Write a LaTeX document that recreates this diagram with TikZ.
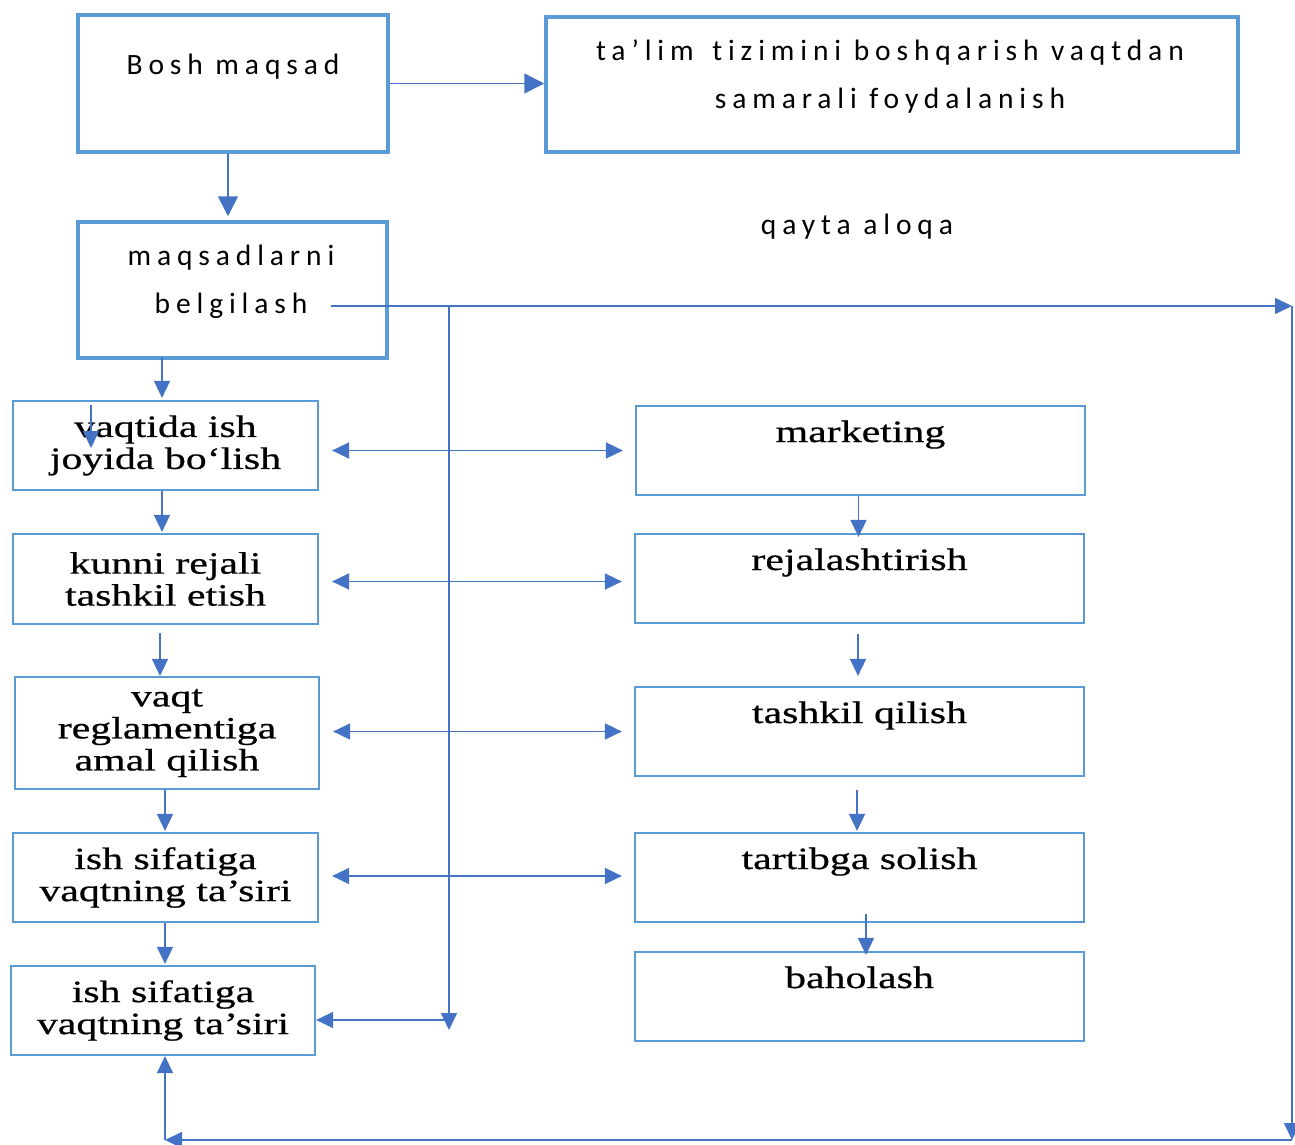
\documentclass[tikz,border=0pt]{standalone}
\usepackage{fontspec}
\usetikzlibrary{arrows.meta}
\newfontfamily\sansL[LetterSpace=20,Ligatures={NoCommon,NoRare},Contextuals=NoAlternate]{Carlito}
\newfontfamily\serifW[FakeStretch=1.35,FakeBold=0.6]{Liberation Serif}
\definecolor{boxblue}{HTML}{5B9BD5}
\definecolor{arrblue}{HTML}{4472C4}
\begin{document}
\begin{tikzpicture}[x=1pt,y=-1pt,
  thickbox/.style={draw=boxblue,line width=3.5pt,inner sep=0pt},
  thinbox/.style={draw=boxblue,line width=2.2pt,inner sep=0pt},
  stxt/.style={font=\sansL\fontsize{29.5}{48}\selectfont,align=center,inner sep=0pt},
  lbox/.style={thinbox,font=\serifW\fontsize{31}{32}\selectfont,align=center},
  rbox/.style={thinbox,font=\serifW\fontsize{31}{32}\selectfont,text height=36pt,text depth=53pt,minimum width=449,minimum height=89},
  conn/.style={draw=arrblue,line width=1.6pt,-{Triangle[length=17pt,width=16pt]}},
  dconn/.style={draw=arrblue,line width=1.6pt,{Triangle[length=17pt,width=16pt]}-{Triangle[length=17pt,width=16pt]}},
  bigconn/.style={draw=arrblue,line width=1.6pt,-{Triangle[length=20pt,width=20pt]}}
]
\useasboundingbox (0,0) rectangle (1295,1145);

% top boxes
\node[thickbox,font=\sansL\fontsize{29.5}{48}\selectfont,minimum width=310,minimum height=137,text height=60pt,text depth=77pt] (A) at (233,83.5) {Bosh maqsad};
\node[thickbox,minimum width=692,minimum height=135] (B) at (892,84.5) {};
\node[stxt,anchor=north] (tB) at (890,40) {ta’lim\hspace{6pt} tizimini boshqarish vaqtdan\\samarali foydalanish};
\node[thickbox,minimum width=309,minimum height=136] (C) at (232.5,290) {};
\node[stxt,anchor=north] (tC) at (231,245) {maqsadlarni\\belgilash};
\node[font=\sansL\fontsize{29.5}{48}\selectfont,inner sep=0pt,anchor=base] (fb) at (857,234) {qayta aloqa};

% left column
\node[lbox,minimum width=305,minimum height=89] (L1) at (165.5,445.5) {vaqtida ish\\joyida bo‘lish};
\node[lbox,minimum width=305,minimum height=90] (L2) at (165.5,579) {kunni rejali\\tashkil etish};
\node[lbox,minimum width=304,minimum height=112] (L3) at (167,733) {vaqt\\reglamentiga\\amal qilish};
\node[lbox,minimum width=305,minimum height=89] (L4) at (165.5,877.5) {ish sifatiga\\vaqtning ta’siri};
\node[lbox,minimum width=304,minimum height=89] (L5) at (163,1010.5) {ish sifatiga\\vaqtning ta’siri};

% right column
\node[rbox] (R1) at (860.5,450.5) {marketing};
\node[rbox] (R2) at (859.5,578.5) {rejalashtirish};
\node[rbox] (R3) at (859.5,731.5) {tashkil qilish};
\node[rbox] (R4) at (859.5,877.5) {tartibga solish};
\node[rbox] (R5) at (859.5,996.5) {baholash};

% coordinates
\coordinate (f0) at (331,306);
\coordinate (j1) at (449,306);
\coordinate (j2) at (449,1030);
\coordinate (j3) at (449,1020);
\coordinate (c1) at (1292,306);
\coordinate (c2) at (1292,1140);
\coordinate (c3) at (165,1140);
\coordinate (s1) at (91,405);
\coordinate (s2) at (91,448);

% top connectors
\draw[bigconn] (A.east) -- (A.east -| B.west);
\draw[bigconn,shorten >=4pt] ([xshift=-5pt]A.south) -- ([xshift=-5pt]A.south |- C.north);

% left column connectors
\draw[conn,shorten <=-3pt,shorten >=2pt] ([xshift=-3.5pt]L1.north |- C.south) -- ([xshift=-3.5pt]L1.north);
\draw[conn] (s1) -- (s2);
\draw[conn,shorten >=1pt] ([xshift=-3.5pt]L1.south) -- ([xshift=-3.5pt]L1.south |- L2.north);
\draw[conn,shorten <=8pt] ([xshift=-5.5pt]L2.south) -- ([xshift=-5.5pt]L2.south |- L3.north);
\draw[conn,shorten >=1pt] ([xshift=-2pt]L3.south) -- ([xshift=-2pt]L3.south |- L4.north);
\draw[conn,shorten >=1pt] ([xshift=-0.5pt]L4.south) -- ([xshift=-0.5pt]L4.south |- L5.north);

% horizontal double arrows
\draw[dconn,shorten <=13pt,shorten >=12pt] (R1.west -| L1.east) -- (R1.west);
\draw[dconn,shorten <=13pt,shorten >=12pt] ([yshift=-3pt]R2.west -| L2.east) -- ([yshift=-3pt]R2.west);
\draw[dconn,shorten <=13pt,shorten >=12pt] (R3.west -| L3.east) -- (R3.west);
\draw[dconn,shorten <=13pt,shorten >=12pt] ([yshift=1.5pt]R4.west -| L4.east) -- ([yshift=1.5pt]R4.west);

% right column connectors
\draw[conn,shorten >=-4pt] ([xshift=-2pt]R1.south) -- ([xshift=-2pt]R1.south |- R2.north);
\draw[conn,shorten <=10pt,shorten >=10pt] ([xshift=-1.5pt]R2.south) -- ([xshift=-1.5pt]R2.south |- R3.north);
\draw[conn,shorten <=13pt,shorten >=1pt] ([xshift=-2.5pt]R3.south) -- ([xshift=-2.5pt]R3.south |- R4.north);
\draw[conn,shorten <=-9pt,shorten >=-4pt] ([xshift=6.5pt]R4.south) -- ([xshift=6.5pt]R4.south |- R5.north);

% feedback loop
\draw[conn] (f0) -- (c1);
\draw[conn] (j1) -- (j2);
\draw[conn] (j3) -- (j3 -| L5.east);
\draw[conn] (c1) -- (c2);
\draw[conn] (c2) -- (c3);
\draw[conn] (c3) -- (c3 |- L5.south);
\end{tikzpicture}
\end{document}
